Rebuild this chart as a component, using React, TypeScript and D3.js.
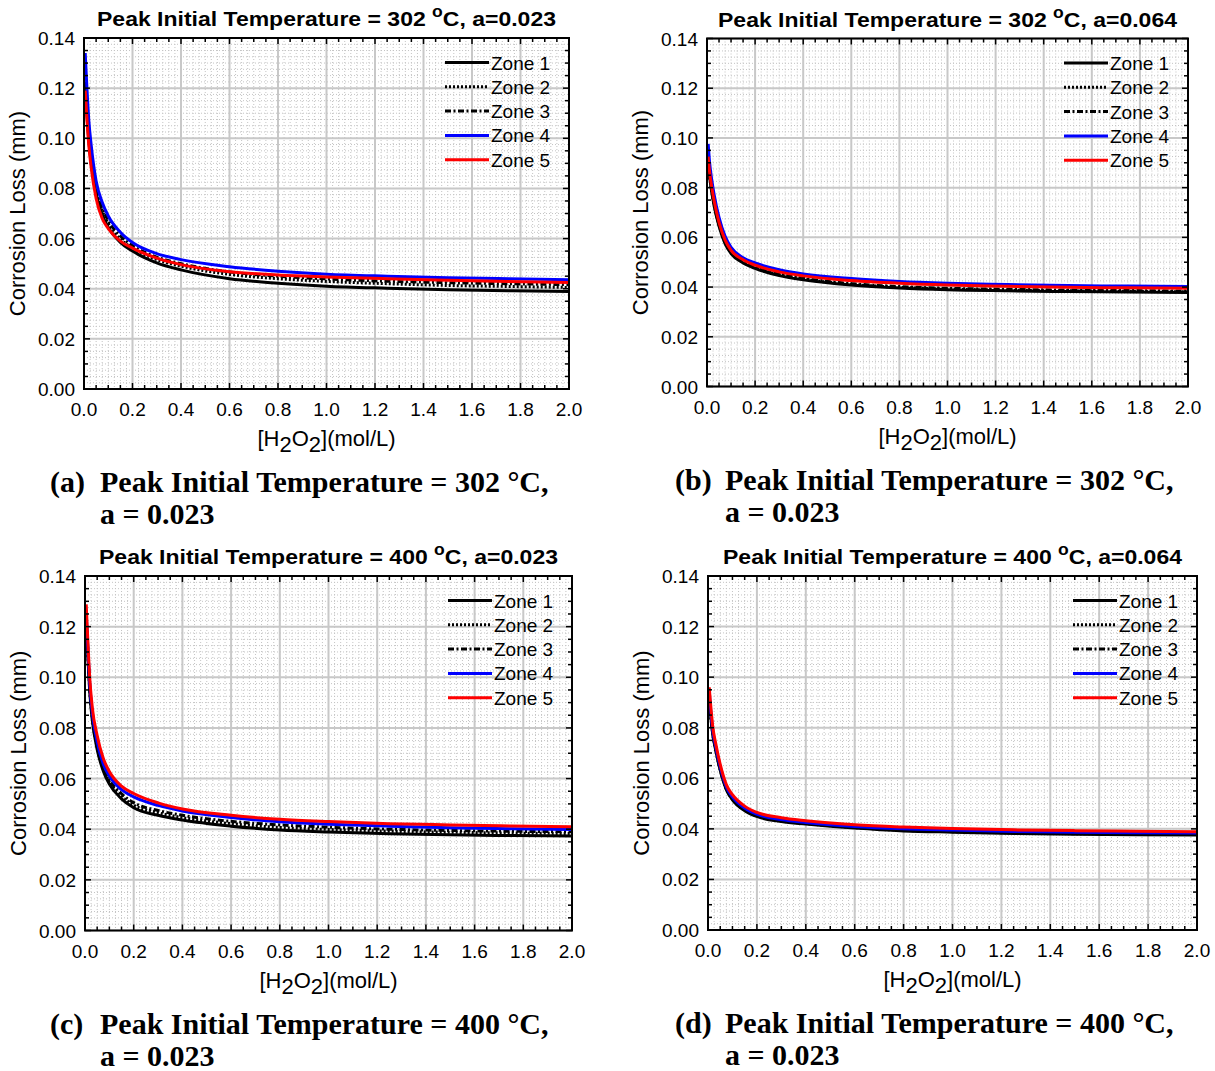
import React from 'react';
import * as d3 from 'd3';

// sampled H2O2 concentrations (mol/L)
const xPoints = [0.005, 0.01, 0.02, 0.03, 0.05, 0.075, 0.1, 0.15, 0.2, 0.3, 0.4, 0.6, 0.8, 1.0, 1.25, 1.5, 1.75, 2.0];

// corrosion loss (mm), panel (a): 302 C, a=0.023
const a1 = [0.122, 0.113, 0.099, 0.090, 0.078, 0.0695, 0.0645, 0.0585, 0.0550, 0.0503, 0.0475, 0.0440, 0.0422, 0.0410, 0.0402, 0.0396, 0.0392, 0.0389];
const a2 = [0.124, 0.115, 0.101, 0.092, 0.080, 0.0712, 0.0660, 0.0598, 0.0562, 0.0516, 0.0490, 0.0457, 0.0440, 0.0429, 0.0420, 0.0413, 0.0409, 0.0405];
const a3 = [0.126, 0.117, 0.103, 0.094, 0.081, 0.0725, 0.0672, 0.0610, 0.0572, 0.0526, 0.0500, 0.0467, 0.0450, 0.0439, 0.0430, 0.0424, 0.0420, 0.0416];
const a4 = [0.134, 0.124, 0.107, 0.097, 0.083, 0.0745, 0.0690, 0.0625, 0.0584, 0.0540, 0.0516, 0.0488, 0.0470, 0.0458, 0.0450, 0.0444, 0.0440, 0.0436];
const a5 = [0.119, 0.111, 0.097, 0.088, 0.076, 0.0680, 0.0640, 0.0590, 0.0562, 0.0522, 0.0496, 0.0468, 0.0455, 0.0447, 0.0440, 0.0434, 0.0429, 0.0425];

// panel (b): 302 C, a=0.064
const b1 = [0.090, 0.085, 0.078, 0.0725, 0.0645, 0.0575, 0.0535, 0.0497, 0.0475, 0.0446, 0.0429, 0.0408, 0.0396, 0.0389, 0.0385, 0.0382, 0.0380, 0.0378];
const b2 = [0.0905, 0.0855, 0.0785, 0.0730, 0.0650, 0.0580, 0.0539, 0.0501, 0.0479, 0.0450, 0.0433, 0.0411, 0.0399, 0.0392, 0.0388, 0.0385, 0.0383, 0.0381];
const b3 = [0.091, 0.086, 0.079, 0.0735, 0.0654, 0.0584, 0.0543, 0.0505, 0.0483, 0.0454, 0.0436, 0.0414, 0.0402, 0.0395, 0.0391, 0.0388, 0.0386, 0.0384];
const b4 = [0.0976, 0.091, 0.083, 0.077, 0.068, 0.0605, 0.0560, 0.0518, 0.0497, 0.0470, 0.0453, 0.0434, 0.0422, 0.0415, 0.0410, 0.0406, 0.0404, 0.0402];
const b5 = [0.0925, 0.087, 0.080, 0.0745, 0.066, 0.059, 0.0548, 0.0510, 0.0488, 0.0461, 0.0445, 0.0426, 0.0415, 0.0408, 0.0403, 0.0399, 0.0397, 0.0395];

// panel (c): 400 C, a=0.023
const c1 = [0.122, 0.112, 0.0935, 0.083, 0.0715, 0.0630, 0.0578, 0.0520, 0.0485, 0.0455, 0.0436, 0.0412, 0.0397, 0.0389, 0.0382, 0.0378, 0.0375, 0.0373];
const c2 = [0.123, 0.113, 0.0945, 0.084, 0.0725, 0.0640, 0.0588, 0.0530, 0.0495, 0.0465, 0.0446, 0.0422, 0.0407, 0.0399, 0.0392, 0.0388, 0.0385, 0.0383];
const c3 = [0.124, 0.114, 0.0955, 0.085, 0.0735, 0.0648, 0.0596, 0.0540, 0.0505, 0.0474, 0.0455, 0.0431, 0.0417, 0.0408, 0.0400, 0.0395, 0.0392, 0.0390];
const c4 = [0.125, 0.115, 0.0965, 0.086, 0.0745, 0.0658, 0.0610, 0.0556, 0.0528, 0.0494, 0.0472, 0.0446, 0.0429, 0.0420, 0.0412, 0.0406, 0.0402, 0.0399];
const c5 = [0.1288, 0.118, 0.099, 0.088, 0.077, 0.068, 0.0628, 0.057, 0.0541, 0.0504, 0.048, 0.0455, 0.0439, 0.043, 0.0422, 0.0417, 0.0413, 0.041];

// panel (d): 400 C, a=0.064
const d1 = [0.092, 0.086, 0.077, 0.0718, 0.0632, 0.0555, 0.0515, 0.0472, 0.0449, 0.0429, 0.0419, 0.0403, 0.0392, 0.0387, 0.0382, 0.0379, 0.0377, 0.0376];
const d2 = [0.0922, 0.0862, 0.0772, 0.0720, 0.0634, 0.0557, 0.0517, 0.0474, 0.0451, 0.0431, 0.0421, 0.0405, 0.0394, 0.0389, 0.0384, 0.0381, 0.0379, 0.0378];
const d3v = [0.0925, 0.0865, 0.0775, 0.0723, 0.0637, 0.0560, 0.0520, 0.0477, 0.0454, 0.0433, 0.0423, 0.0407, 0.0396, 0.0391, 0.0386, 0.0383, 0.0381, 0.0380];
const d4 = [0.094, 0.088, 0.0785, 0.0732, 0.0645, 0.0566, 0.0526, 0.0482, 0.0458, 0.0437, 0.0425, 0.0409, 0.0400, 0.0395, 0.0390, 0.0387, 0.0385, 0.0384];
const d5 = [0.096, 0.090, 0.080, 0.0745, 0.0655, 0.0575, 0.0535, 0.049, 0.0465, 0.0444, 0.0432, 0.0416, 0.0407, 0.0401, 0.0396, 0.0393, 0.0391, 0.0389];

const zoneNames = ['Zone 1', 'Zone 2', 'Zone 3', 'Zone 4', 'Zone 5'];
const xTicks = [0, 0.2, 0.4, 0.6, 0.8, 1.0, 1.2, 1.4, 1.6, 1.8, 2.0];
const yTicks = [0, 0.02, 0.04, 0.06, 0.08, 0.1, 0.12, 0.14];

const zoneStyle = [
  { color: '#000', dash: null },
  { color: '#000', dash: '2,2' },
  { color: '#000', dash: '6,2.5,2,2.5' },
  { color: '#0000ff', dash: null },
  { color: '#ff0000', dash: null },
];

const panels = [
  { id: 'a', temp: '302', a: '0.023', cap: '(a)', capA: '0.023', zones: [a1, a2, a3, a4, a5], x0: 84, x1: 569, y0: 38, y1: 389, cx: 50 },
  { id: 'b', temp: '302', a: '0.064', cap: '(b)', capA: '0.023', zones: [b1, b2, b3, b4, b5], x0: 707, x1: 1188, y0: 38.5, y1: 386.5, cx: 675 },
  { id: 'c', temp: '400', a: '0.023', cap: '(c)', capA: '0.023', zones: [c1, c2, c3, c4, c5], x0: 85, x1: 572, y0: 576, y1: 930.5, cx: 50 },
  { id: 'd', temp: '400', a: '0.064', cap: '(d)', capA: '0.023', zones: [d1, d2, d3v, d4, d5], x0: 708, x1: 1197, y0: 576, y1: 930, cx: 675 },
];

const sans = 'Liberation Sans, Arial, sans-serif';
const serif = 'Liberation Serif, Times New Roman, serif';

const Panel = ({ p }) => {
  const x = d3.scaleLinear().domain([0, 2]).range([p.x0, p.x1]);
  const y = d3.scaleLinear().domain([0, 0.14]).range([p.y1, p.y0]);
  const line = d3.line().x(d => x(d[0])).y(d => y(d[1])).curve(d3.curveMonotoneX);

  const minorX = d3.range(0, 2.0001, 0.025);
  const minorY = d3.range(0, 0.14001, 0.0025);
  const tickX = d3.range(0, 2.0001, 0.05);
  const tickY = d3.range(0, 0.14001, 0.005);
  const cxm = (p.x0 + p.x1) / 2;
  const cym = (p.y0 + p.y1) / 2;
  const clipId = 'clip-' + p.id;

  return (
    <g>
      <defs>
        <clipPath id={clipId}>
          <rect x={p.x0} y={p.y0} width={p.x1 - p.x0} height={p.y1 - p.y0} />
        </clipPath>
      </defs>
      {/* minor dotted grid */}
      {minorX.map((v, i) => (
        <line key={'mx' + i} x1={x(v)} x2={x(v)} y1={p.y0} y2={p.y1} stroke="#c4c4c4" strokeWidth={1} strokeDasharray="1,2" />
      ))}
      {minorY.map((v, i) => (
        <line key={'my' + i} x1={p.x0} x2={p.x1} y1={y(v)} y2={y(v)} stroke="#c4c4c4" strokeWidth={1} strokeDasharray="1,2" />
      ))}
      {/* major grid */}
      {xTicks.map((v, i) => (
        <line key={'gx' + i} x1={x(v)} x2={x(v)} y1={p.y0} y2={p.y1} stroke="#c8c8c8" strokeWidth={2} />
      ))}
      {yTicks.map((v, i) => (
        <line key={'gy' + i} x1={p.x0} x2={p.x1} y1={y(v)} y2={y(v)} stroke="#c8c8c8" strokeWidth={2} />
      ))}
      {/* curves */}
      <g clipPath={`url(#${clipId})`}>
        {p.zones.map((vals, zi) => (
          <path key={zi} d={line(xPoints.map((xv, k) => [xv, vals[k]]))} fill="none"
            stroke={zoneStyle[zi].color} strokeWidth={3} strokeDasharray={zoneStyle[zi].dash || undefined} />
        ))}
      </g>
      {/* inward ticks */}
      {tickX.map((v, i) => {
        const len = i % 4 === 0 ? 6 : 4;
        return (
          <g key={'tx' + i}>
            <line x1={x(v)} x2={x(v)} y1={p.y1} y2={p.y1 - len} stroke="#000" strokeWidth={1.5} />
            <line x1={x(v)} x2={x(v)} y1={p.y0} y2={p.y0 + len} stroke="#000" strokeWidth={1.5} />
          </g>
        );
      })}
      {tickY.map((v, i) => {
        const len = i % 4 === 0 ? 6 : 4;
        return (
          <g key={'ty' + i}>
            <line x1={p.x0} x2={p.x0 + len} y1={y(v)} y2={y(v)} stroke="#000" strokeWidth={1.5} />
            <line x1={p.x1} x2={p.x1 - len} y1={y(v)} y2={y(v)} stroke="#000" strokeWidth={1.5} />
          </g>
        );
      })}
      <rect x={p.x0} y={p.y0} width={p.x1 - p.x0} height={p.y1 - p.y0} fill="none" stroke="#000" strokeWidth={2} />
      {/* tick labels */}
      {xTicks.map((v, i) => (
        <text key={'lx' + i} x={x(v)} y={p.y1 + 27} textAnchor="middle" fontFamily={sans} fontSize={19}>{v.toFixed(1)}</text>
      ))}
      {yTicks.map((v, i) => (
        <text key={'ly' + i} x={p.x0 - 9} y={y(v) + 7} textAnchor="end" fontFamily={sans} fontSize={19}>{v.toFixed(2)}</text>
      ))}
      {/* title */}
      <text x={cxm} y={p.y0 - 12} textAnchor="middle" fontFamily={sans} fontWeight="bold" fontSize={21}
        textLength={459} lengthAdjust="spacingAndGlyphs">
        Peak Initial Temperature = {p.temp} <tspan fontSize={16} dy={-9}>o</tspan><tspan dy={9}>C, a={p.a}</tspan>
      </text>
      {/* axis labels */}
      <text x={cxm} y={p.y1 + 57} textAnchor="middle" fontFamily={sans} fontSize={22}>
        [H<tspan dy={6}>2</tspan><tspan dy={-6}>O</tspan><tspan dy={6}>2</tspan><tspan dy={-6}>](mol/L)</tspan>
      </text>
      <text transform={`translate(${p.x0 - 59},${cym}) rotate(-90)`} textAnchor="middle" fontFamily={sans} fontSize={22}>
        Corrosion Loss (mm)
      </text>
      {/* legend */}
      {zoneNames.map((name, i) => {
        const ly = p.y0 + 24.5 + i * 24.3;
        return (
          <g key={'lg' + i}>
            <line x1={p.x1 - 124} x2={p.x1 - 80} y1={ly} y2={ly} stroke={zoneStyle[i].color} strokeWidth={3}
              strokeDasharray={zoneStyle[i].dash || undefined} />
            <text x={p.x1 - 78} y={ly + 7} fontFamily={sans} fontSize={19}>{name}</text>
          </g>
        );
      })}
      {/* caption */}
      <text x={p.cx} y={p.y1 + 103} fontFamily={serif} fontWeight="bold" fontSize={30}>{p.cap}</text>
      <text x={p.cx + 50} y={p.y1 + 103} fontFamily={serif} fontWeight="bold" fontSize={30}>
        Peak Initial Temperature = {p.temp} °C,
      </text>
      <text x={p.cx + 50} y={p.y1 + 135} fontFamily={serif} fontWeight="bold" fontSize={30}>a = {p.capA}</text>
    </g>
  );
};

export default function App() {
  return (
    <svg width={1215} height={1071} style={{ position: 'absolute', left: 0, top: 0, background: '#fff' }}>
      <rect width={1215} height={1071} fill="#fff" />
      {panels.map(p => <Panel key={p.id} p={p} />)}
    </svg>
  );
}
